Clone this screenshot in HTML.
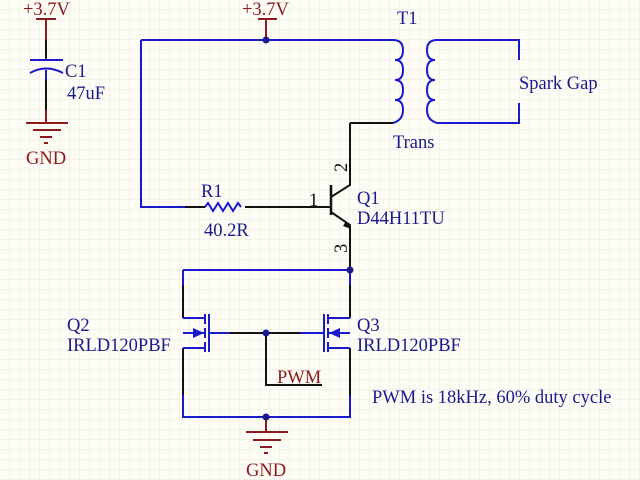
<!DOCTYPE html>
<html><head><style>
body{margin:0;background:#fdfdf6}
svg{display:block}
text{font-family:"Liberation Serif",serif;font-size:18.5px}
</style></head><body>
<svg width="640" height="480" viewBox="0 0 640 480" xmlns="http://www.w3.org/2000/svg">
<defs><pattern id="g" width="10" height="10" patternUnits="userSpaceOnUse"><path d="M10 0V10H0" fill="none" stroke="#e8e8e0" stroke-width="1"/></pattern></defs>
<rect width="640" height="480" fill="#fdfdf6"/>
<rect width="640" height="480" fill="url(#g)"/>
<g fill="none" stroke-width="2">
<path d="M36 19H56M46 19V60" stroke="#8b1a1a"/>
<path d="M46 40V58M46 72V118" stroke="#111"/>
<path d="M30 60H63M30 73Q46 64 63 73M46 70V80" stroke="#1a1acc"/>
<path d="M46 110V123M26 123H68M33 130H61M40 137H52M44 143H48" stroke="#8b1a1a"/>
<path d="M258 19H277M266 19V40" stroke="#8b1a1a"/>
<path d="M141 40H393M141 40V207H185" stroke="#1a1acc"/>
<path d="M185 207H205M245 207H330" stroke="#111"/>
<path d="M205 207l3-4 5 8 5-8 5 8 5-8 5 8 5-8 3 4" stroke="#1a1acc"/>
<path d="M393 40q10 0 10 10q0 10-8 10q8 0 8 10q0 10-8 10q8 0 8 10q0 10-8 10q8 0 8 10q0 10-10 13" stroke="#1a1acc"/>
<path d="M437 40q-10 0-10 10q0 10 8 10q-8 0-8 10q0 10 8 10q-8 0-8 10q0 10 8 10q-8 0-8 10q0 10 10 13" stroke="#1a1acc"/>
<path d="M437 40H519V60M437 123H519V103" stroke="#1a1acc"/>
<path d="M350 123H393M350 123V185L331 197M331 212L350 225V270" stroke="#111"/>
<path d="M331 185V215" stroke="#111" stroke-width="2.5"/>
<path d="M183 270H350M183 270V318M350 270V318" stroke="#1a1acc"/>
<path d="M183 285V318M350 285V318M183 348V410M350 348V410" stroke="#111"/>
<path d="M183 318H205M183 348H205M183 333H205M205 314V324M205 328V338M205 342V352M209 314V352M209 333H230" stroke="#1a1acc"/>
<path d="M350 318H328M350 348H328M350 333H328M328 314V324M328 328V338M328 342V352M324 314V352M324 333H300" stroke="#1a1acc"/>
<path d="M230 333H300M266 333V385H322" stroke="#111"/>
<path d="M183 395V417H350V395" stroke="#1a1acc"/>
<path d="M266 417V432M246 432H288M253 440H281M260 447H272M264 453H268" stroke="#8b1a1a"/>
</g>
<path d="M343 226L351 229L346 221Z" fill="#111"/>
<path d="M193 328L204 333L193 338Z" fill="#1a1acc"/>
<path d="M340 328L329 333L340 338Z" fill="#1a1acc"/>
<g fill="#1a1a8c">
<circle cx="266" cy="40" r="3.5"/><circle cx="350" cy="270" r="3.5"/><circle cx="266" cy="333" r="3.5"/><circle cx="266" cy="417" r="3.5"/>
</g>
<g fill="#8b1a1a">
<text x="23" y="15">+3.7V</text><text x="242" y="15">+3.7V</text>
<text x="26" y="164">GND</text><text x="246" y="476">GND</text>
<text x="277" y="383">PWM</text>
</g>
<g fill="#1a1a8c">
<text x="65" y="77">C1</text><text x="67" y="99">47uF</text>
<text x="201" y="197">R1</text><text x="204" y="236">40.2R</text>
<text x="397" y="24">T1</text><text x="393" y="148">Trans</text>
<text x="519" y="89">Spark Gap</text>
<text x="357" y="204">Q1</text><text x="357" y="224">D44H11TU</text>
<text x="67" y="331">Q2</text><text x="67" y="351">IRLD120PBF</text>
<text x="357" y="331">Q3</text><text x="357" y="351">IRLD120PBF</text>
<text x="372" y="403">PWM is 18kHz, 60% duty cycle</text>
</g>
<g fill="#111">
<text x="309" y="206">1</text>
<text transform="translate(347,172) rotate(-90)">2</text>
<text transform="translate(347,253) rotate(-90)">3</text>
</g>
</svg>
</body></html>
